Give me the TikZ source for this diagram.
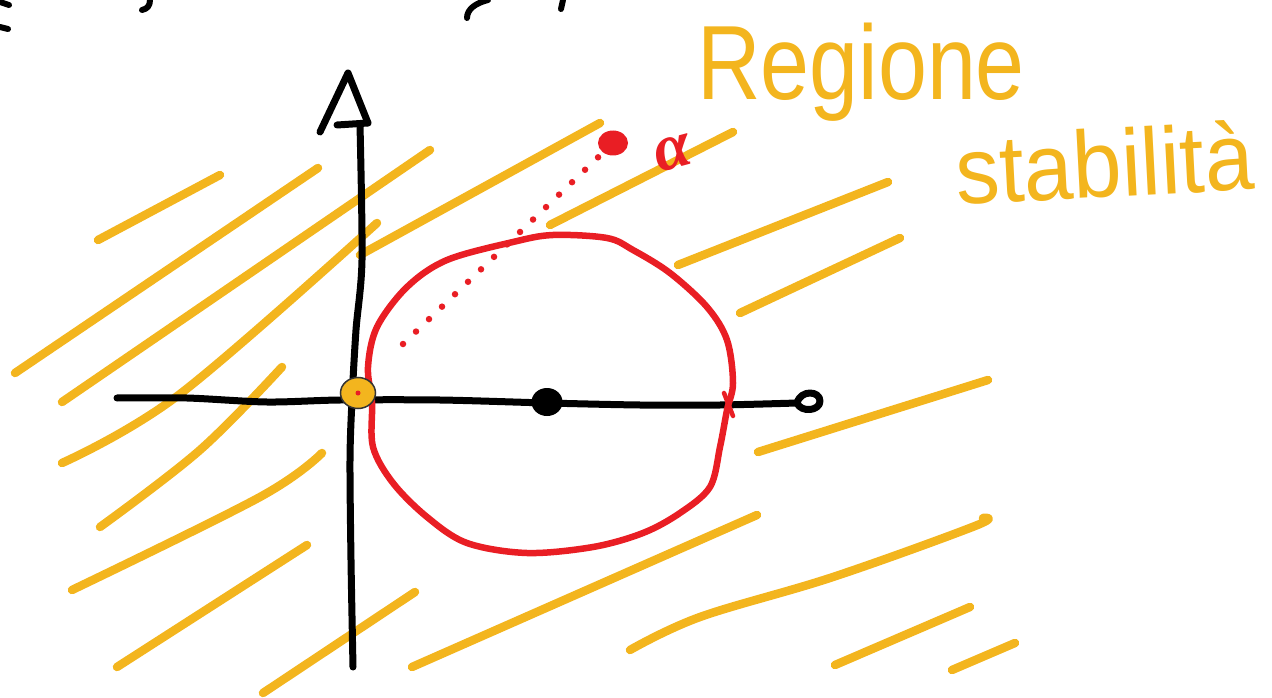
\documentclass[tikz,border=0pt]{standalone}
\usepackage{fontspec}
\usepackage{graphicx}
\usetikzlibrary{shapes.geometric}
\setmainfont{Liberation Sans}
\newfontfamily\greekfont{Liberation Serif}
\definecolor{hatchorange}{RGB}{243,181,30}
\definecolor{circred}{RGB}{233,30,36}
\begin{document}
\begin{tikzpicture}[x=1pt,y=-1pt,
  hatch/.style={draw=hatchorange, line width=8.5pt, line cap=round, line join=round},
  axisline/.style={draw=black, line width=7pt, line cap=round, line join=round},
  regionline/.style={draw=circred, line width=6.5pt, line join=round},
  dotline/.style={draw=circred, line width=6.5pt, line cap=round, dash pattern=on 0pt off 18pt},
  lbl/.style={text=hatchorange, inner sep=0pt, font=\fontsize{88}{88}\selectfont}]
\useasboundingbox (0,0) rectangle (1272,698);
% cut-off fragments at the top edge
\draw[axisline, line width=6pt] (0,2) -- (9,5);
\draw[axisline, line width=6pt] (0,27) -- (8,29);
\draw[axisline, line width=6pt] (150,0) .. controls (150,6) and (147,9) .. (142,10);
\draw[axisline, line width=6pt] (488,0) .. controls (476,3) and (467,9) .. (467,18);
\draw[axisline, line width=6pt] (563,0) -- (561,9);
% hatching
\draw[hatch] (98,240) -- (220,175);
\draw[hatch] (15,373) -- (318,168);
\draw[hatch] (62,402) -- (430,150);
\draw[hatch] plot[smooth, tension=0.6] coordinates {(62,463) (180,394) (377,223)};
\draw[hatch] (360,255) -- (600,123);
\draw[hatch] plot[smooth, tension=0.6] coordinates {(100,527) (200,450) (282,367)};
\draw[hatch] plot[smooth, tension=0.6] coordinates {(72,590) (260,497) (322,453)};
\draw[hatch] (117,667) -- (307,545);
\draw[hatch] (263,693) -- (415,592);
\draw[hatch] (412,667) -- (757,515);
\draw[hatch] plot[smooth, tension=0.6] coordinates {(630,650) (700,617) (833,577) (975,526) (983,518)};
\draw[hatch] (835,665) -- (970,607);
\draw[hatch] (952,670) -- (1015,643);
\draw[hatch] (678,265) -- (888,182);
\draw[hatch] (740,313) -- (900,238);
\draw[hatch] (758,452) -- (988,380);
\draw[hatch] (550,225) -- (733,132);
% axes
\coordinate (ytop) at (348,73);
\coordinate (xend) at (797,403);
\draw[axisline] plot[smooth] coordinates {(360,125) (362,260) (356,330) (352,400) (350,460) (351,560) (353,667)};
\draw[axisline] (320,132) -- (ytop) -- (368,123);
\draw[axisline] (337,125) -- (368,123);
\draw[axisline] plot[smooth, tension=0.5] coordinates {(117,398) (187,398) (267,402) (340,400) (440,400) (547,403) (640,405) (720,405) (xend)};
\draw[axisline, line width=7pt] (xend) .. controls (801,389) and (820,391) .. (820,401) .. controls (820,411) and (801,413) .. (xend);
% red region boundary
\draw[regionline] plot[smooth cycle, tension=0.55] coordinates {(372,403) (368,367) (377,327) (407,287) (447,260) (513,242) (553,235) (607,238) (633,250) (670,273) (707,307) (727,340) (733,383) (727,410) (720,447) (710,487) (680,513) (643,533) (593,547) (527,553) (467,543) (427,517) (393,483) (373,447)};
\draw[circred, line width=4.5pt, line cap=round] (724,393) -- (733,416);
% points
\node[draw=black!80, fill=hatchorange, ellipse, minimum width=35pt, minimum height=31pt, line width=1.5pt, inner sep=0pt] (origin) at (358,393) {};
\fill[circred] (origin.center) circle (2.5pt);
\node[fill=black, ellipse, minimum width=31pt, minimum height=28pt, inner sep=0pt] (center) at (547,402) {};
\node[fill=circred, ellipse, minimum width=30pt, minimum height=25pt, inner sep=0pt] (alphapt) at (613,143) {};
\coordinate (dotstart) at (403,344);
\draw[dotline] (dotstart) -- (alphapt);
\node[text=circred, inner sep=0pt, rotate=15, font=\greekfont\itshape\bfseries\fontsize{66}{66}\selectfont] (alpha) at (673,153) {α};
% label
\node[lbl, anchor=base west] (regione) at (697,100) {\scalebox{1}[1.2]{Regione}};
\node[lbl, anchor=base west, rotate=3] (stab) at (957,205) {\scalebox{1}[1.08]{stabilità}};
\end{tikzpicture}
\end{document}
